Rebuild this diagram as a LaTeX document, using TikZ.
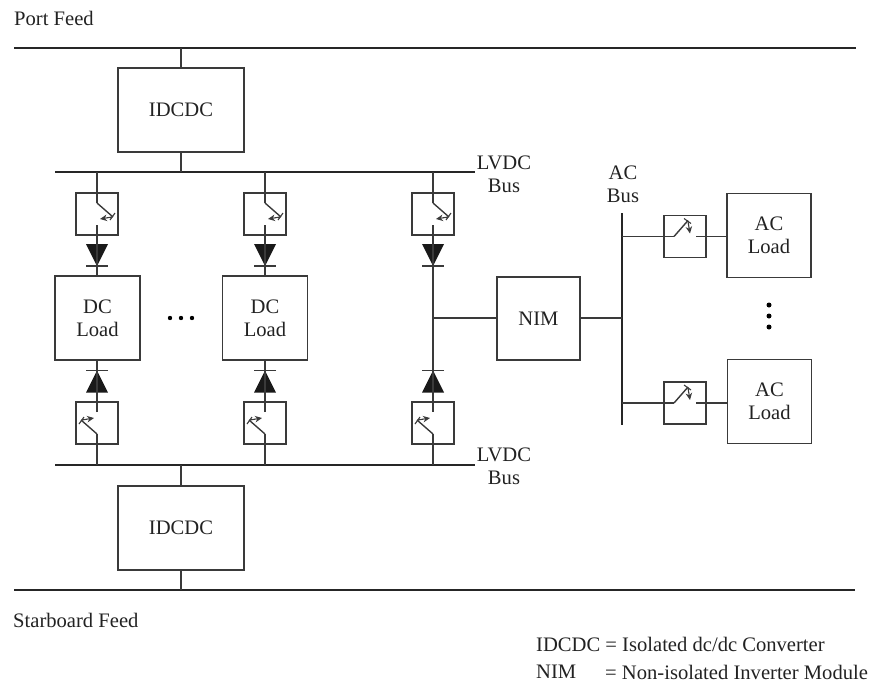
\documentclass[tikz,border=0pt]{standalone}
\usepackage{fontspec}
\setmainfont{Liberation Serif}
\usetikzlibrary{arrows.meta}
\definecolor{ink}{HTML}{3A3A3A}
\definecolor{txt}{HTML}{222222}
\tikzset{
  wire/.style={draw=ink,line width=1.4pt},
  busline/.style={draw=black!85,line width=2.2pt},
  blockbox/.style={draw=ink,line width=1.4pt,minimum width=#1,inner sep=0pt,align=center,font=\fontsize{20.6}{23}\selectfont,text=txt},
  blockbox/.default=84pt,
  swbox/.style={draw=ink,line width=1.4pt,minimum width=42pt,minimum height=42pt,inner sep=0pt},
  lbl/.style={inner sep=0pt,align=center,font=\fontsize{20.6}{23}\selectfont,text=txt},
  lft/.style={lbl,anchor=west,align=left},
  switchpic/.pic={
    \coordinate (-a) at (0,-11);
    \coordinate (-b) at (0,11);
    \draw[wire] (-a) -- (16,3);
    \draw[ink,line width=1.1pt] (13,6) -- (18,-1);
    \draw[ink,line width=1.1pt,-{Stealth[length=7pt,width=6.5pt]}] (15,3) -- (3,5);
  },
  diodepic/.pic={
    \fill[black!90] (-11,-11) -- (11,-11) -- (0,11) -- cycle;
    \draw[ink,line width=1.4pt] (-11,11) -- (11,11);
  },
}
\begin{document}
\begin{tikzpicture}[x=1pt,y=-1pt]
\useasboundingbox (0,0) rectangle (873,683);
% feeds and buses
\coordinate (pf1) at (14,48);  \coordinate (pf2) at (856,48);
\coordinate (sf1) at (14,590); \coordinate (sf2) at (855,590);
\coordinate (lt1) at (55,172); \coordinate (lt2) at (475,172);
\coordinate (lb1) at (55,465); \coordinate (lb2) at (475,465);
\coordinate (ac1) at (622,213); \coordinate (ac2) at (622,425);
\draw[busline] (pf1) -- (pf2);
\draw[busline] (sf1) -- (sf2);
\draw[busline] (lt1) -- (lt2);
\draw[busline] (lb1) -- (lb2);
\draw[busline] (ac1) -- (ac2);
% converters
\node[blockbox=126pt,minimum height=84pt] (idt) at (181,110) {IDCDC};
\node[blockbox=126pt,minimum height=84pt] (idb) at (181,528) {IDCDC};
\draw[wire] (idt.north) -- (idt.north |- pf1);
\draw[wire] (idt.south) -- (idt.south |- lt1);
\draw[wire] (idb.north) -- (idb.north |- lb1);
\draw[wire] (idb.south) -- (idb.south |- sf1);
% dc loads
\node[blockbox=85pt,minimum height=84pt] (dl1) at (97.5,318) {DC\\Load};
\node[blockbox=85pt,minimum height=84pt] (dl2) at (265,318) {DC\\Load};
\coordinate (jn) at (433,318);
% nim
\node[blockbox=83pt,minimum height=83pt] (nim) at (538.5,318.5) {NIM};
% switch boxes
\foreach \n/\cx in {1/97,2/265,3/433}{
  \node[swbox] (ut\n) at (\cx,214) {};
  \node[swbox] (lw\n) at (\cx,423) {};
  \pic (su\n) at (ut\n.center) {switchpic};
  \pic[rotate=180] (sl\n) at (lw\n.center) {switchpic};
  \pic at (\cx,255) {diodepic};
  \pic[rotate=180] at (\cx,381.5) {diodepic};
  \draw[wire] (su\n-a) -- (su\n-a |- lt1);
  \draw[wire] (sl\n-a) -- (sl\n-a |- lb1);
}
\draw[wire] (su1-b) -- (dl1.north -| su1-b);
\draw[wire] (su2-b) -- (dl2.north -| su2-b);
\draw[wire] (sl1-b) -- (dl1.south -| sl1-b);
\draw[wire] (sl2-b) -- (dl2.south -| sl2-b);
\draw[wire] (su3-b) -- (sl3-b);
\draw[wire] (jn) -- (jn -| nim.west);
\draw[wire] (nim.east |- jn) -- (jn -| ac1);
% ac side
\node[blockbox=84pt,minimum height=84pt] (al1) at (769,235.5) {AC\\Load};
\node[blockbox=84pt,minimum height=84pt] (al2) at (769.5,401.5) {AC\\Load};
\node[swbox] (as1) at (685,236.5) {};
\node[swbox] (as2) at (685,403) {};
\pic[rotate=90] (sa1) at (as1.center) {switchpic};
\pic[rotate=90] (sa2) at (as2.center) {switchpic};
\draw[wire] (sa1-a) -- (sa1-a -| ac1);
\draw[wire] (sa2-a) -- (sa2-a -| ac1);
\draw[wire] (sa1-b) -- (sa1-b -| al1.west);
\draw[wire] (sa2-b) -- (sa2-b -| al2.west);
% dots
\foreach \p in {170,181,192} \fill[black] (\p,318) circle (2.2pt);
\foreach \p in {305,316,327} \fill[black] (769,\p) circle (2.5pt);
% labels
\node[lft] (t1) at (14,18) {Port Feed};
\node[lft] (t2) at (13,620) {Starboard Feed};
\node[lbl] (t3) at (504,174.5) {LVDC\\Bus};
\node[lbl] (t4) at (504,466.5) {LVDC\\Bus};
\node[lbl] (t5) at (623,184.5) {AC\\Bus};
\node[lft] (t6) at (536,644) {IDCDC = Isolated dc/dc Converter};
\node[lft] (t7) at (536,672) {NIM};
\node[lft] (t8) at (605,672) {= Non-isolated Inverter Module};
\end{tikzpicture}
\end{document}
